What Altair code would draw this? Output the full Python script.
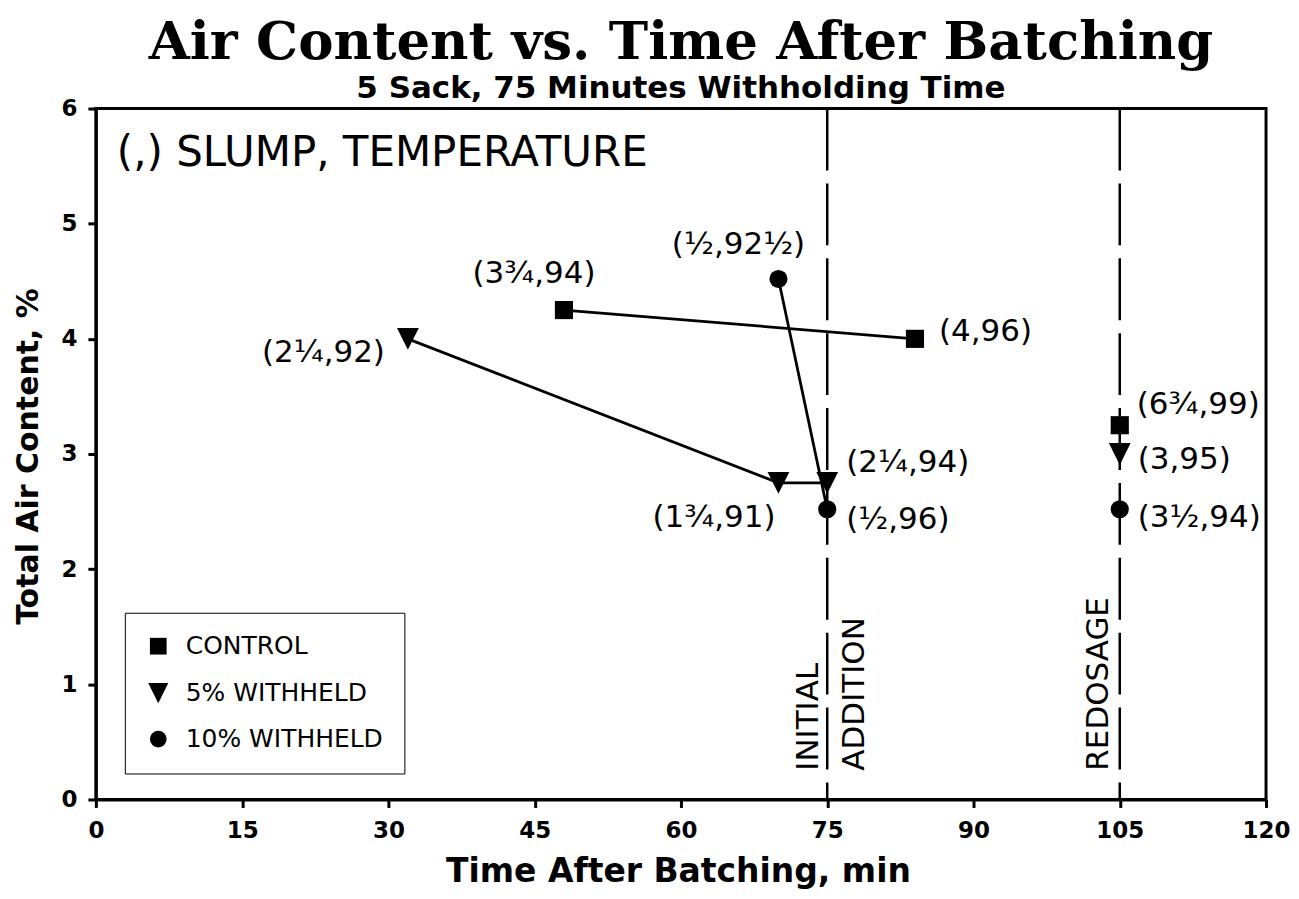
import altair as alt
import pandas as pd

# ---------------- data ----------------
series = ["CONTROL", "5% WITHHELD", "10% WITHHELD"]

control_time = [48, 84, 105]
control_air = [4.25, 4.0, 3.25]
control_labels = ["(3¾,94)", "(4,96)", "(6¾,99)"]
control_connected = [True, True, False]

w5_time = [32, 70, 75, 105]
w5_air = [4.0, 2.75, 2.75, 3.0]
w5_labels = ["(2¼,92)", "(1¾,91)", "(2¼,94)", "(3,95)"]
w5_connected = [True, True, True, False]

w10_time = [70, 75, 105]
w10_air = [4.52, 2.52, 2.52]
w10_labels = ["(½,92½)", "(½,96)", "(3½,94)"]
w10_connected = [True, True, False]

event_time = [75, 105]
event_text = ["INITIAL", "ADDITION", "REDOSAGE"]
event_text_time = [75, 75, 105]
event_text_air = [0.25, 0.25, 0.25]

x_ticks = [0, 15, 30, 45, 60, 75, 90, 105, 120]
y_ticks = [0, 1, 2, 3, 4, 5, 6]

# label layout (align, dx, dy) -- styling only
control_lab_style = [("center", -30, -36), ("left", 24, -7), ("left", 17, -20)]
w5_lab_style = [("right", -23, 14), ("right", -3, 35), ("left", 19, -20), ("left", 18, 6)]
w10_lab_style = [("center", -40, -34), ("left", 19, 11), ("left", 18, 9)]
# for rotated (270 deg) text, dy shifts horizontally on screen
event_style = [("left", 0, -18), ("left", 0, 28), ("left", 0, -21)]

# ---------------- tables ----------------
rows = []
for name, ts, vs, labs, con, sty in [
    (series[0], control_time, control_air, control_labels, control_connected, control_lab_style),
    (series[1], w5_time, w5_air, w5_labels, w5_connected, w5_lab_style),
    (series[2], w10_time, w10_air, w10_labels, w10_connected, w10_lab_style),
]:
    for t, v, l, c, s in zip(ts, vs, labs, con, sty):
        rows.append({"series": name, "time": t, "air": v, "label": l,
                     "connected": c, "align": s[0], "dx": s[1], "dy": s[2]})
df = pd.DataFrame(rows)
df_line = df[df["connected"]]
ev_df = pd.DataFrame({"time": event_time})

FONT = "DejaVu Sans"
tri = "M-1.2,-1.2L1.2,-1.2L0,1.2Z"

xs = alt.Scale(domain=[0, 120], nice=False, zero=False)
ys = alt.Scale(domain=[0, 6], nice=False)

x_enc = alt.X("time:Q", scale=xs,
              axis=alt.Axis(values=x_ticks, format="d", title="Time After Batching, min",
                            titleX=583, titleY=72, titleBaseline="middle",
                            titleFontSize=33, labelFlush=False))
y_enc = alt.Y("air:Q", scale=ys,
              axis=alt.Axis(values=y_ticks, format="d", title="Total Air Content, %",
                            titleX=-67, titleY=348, titleBaseline="middle",
                            titleFontSize=30, labelFlush=False))

base = alt.Chart(df)

lines = alt.Chart(df_line).mark_line(color="black", strokeWidth=2.8).encode(
    x=x_enc, y=y_enc, detail="series:N", order="time:Q"
)

points = base.mark_point(filled=True, color="black", opacity=1, size=330).encode(
    x=x_enc, y=y_enc,
    shape=alt.Shape("series:N",
                    scale=alt.Scale(domain=series, range=["square", tri, "circle"]),
                    legend=alt.Legend(title=None, orient="none", legendX=29, legendY=505,
                                      symbolSize=280, symbolFillColor="black",
                                      symbolStrokeColor="black",
                                      labelFontSize=25, labelFont=FONT, labelLimit=0,
                                      labelOffset=15, rowPadding=20, padding=21,
                                      strokeColor="black", labelColor="black")),
)

rules = alt.Chart(ev_df).mark_rule(color="black", strokeWidth=2.5, strokeDash=[62, 13]).encode(
    x=alt.X("time:Q", scale=xs)
)

layers = [rules, lines, points]

for _, r in df.iterrows():
    layers.append(
        alt.Chart(pd.DataFrame([r])).mark_text(
            align=r["align"], baseline="middle", dx=int(r["dx"]), dy=int(r["dy"]),
            font=FONT, fontSize=31, color="black"
        ).encode(x=alt.X("time:Q", scale=xs), y=alt.Y("air:Q", scale=ys), text="label:N")
    )

for txt, t, v, s in zip(event_text, event_text_time, event_text_air, event_style):
    layers.append(
        alt.Chart(pd.DataFrame({"time": [t], "air": [v], "txt": [txt]})).mark_text(
            align=s[0], baseline="middle", angle=270, dx=s[1], dy=s[2],
            font=FONT, fontSize=31, color="black"
        ).encode(x=alt.X("time:Q", scale=xs), y=alt.Y("air:Q", scale=ys), text="txt:N")
    )

note = alt.Chart(pd.DataFrame({"t": ["(,) SLUMP, TEMPERATURE"]})).mark_text(
    align="left", baseline="middle", font=FONT, fontSize=42, color="black"
).encode(x=alt.value(21), y=alt.value(45), text="t:N")
layers.append(note)

chart = alt.layer(*layers).properties(
    width=1172, height=692,
    title=alt.TitleParams(
        text="Air Content vs. Time After Batching",
        subtitle="5 Sack, 75 Minutes Withholding Time",
        anchor="middle", font="DejaVu Serif", fontSize=53, fontWeight="bold",
        color="black", subtitleFont=FONT, subtitleFontSize=31,
        subtitleFontWeight="bold", subtitleColor="black", subtitlePadding=4, offset=-6,
    ),
    autosize=alt.AutoSizeParams(type="none"),
    padding={"left": 88, "top": 100, "right": 25, "bottom": 91},
).configure_view(
    stroke="black", strokeWidth=3
).configure_axis(
    grid=False, domainColor="black", domainWidth=3, tickColor="black", tickWidth=3,
    tickSize=8, labelFont=FONT, labelFontWeight="bold", labelFontSize=23,
    labelColor="black", titleFont=FONT, titleFontWeight="bold", titleColor="black",
).configure_axisX(labelPadding=12).configure_axisY(labelPadding=11)

chart.save("out.html", embed_options={"renderer": "svg", "actions": False})
